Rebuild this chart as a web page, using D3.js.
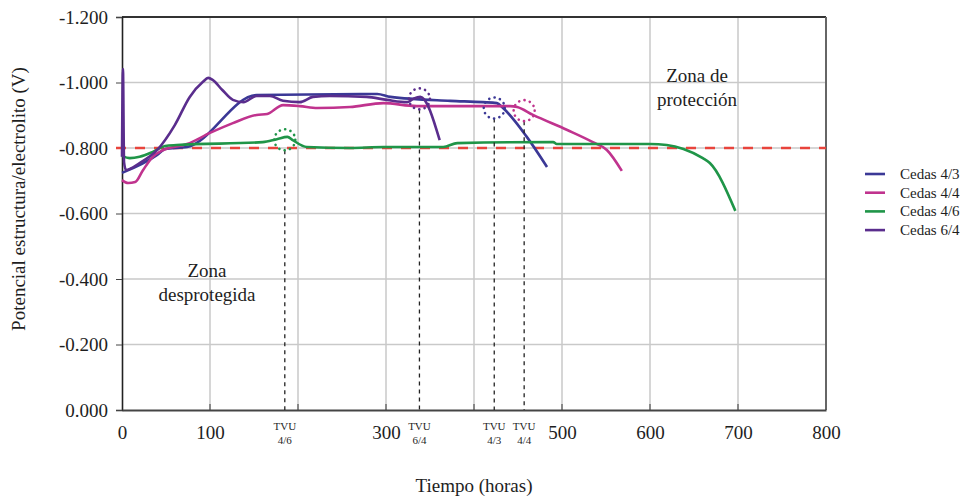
<!DOCTYPE html>
<html>
<head>
<meta charset="utf-8">
<script src="https://cdn.jsdelivr.net/npm/d3@7"></script>
<style>
  body { margin: 0; background: #fff; }
</style>
</head>
<body>
<div id="chart"></div>
<script>
var width = 965;
var height = 498;
var serif = '"Liberation Serif", "Times New Roman", serif';

// data: [hours, potential V]
var cedas43 = [[0,-0.724],[40,-0.779],[49,-0.797],[74,-0.803],[153,-0.962],[290,-0.965],[305,-0.956],
  [373,-0.944],[410,-0.940],[426,-0.937],[433,-0.922],[460,-0.834],[483,-0.742]];
var cedas44 = [[0,-0.702],[7,-0.693],[15,-0.696],[24,-0.733],[35,-0.773],[47,-0.794],[74,-0.812],
  [100,-0.846],[126,-0.876],[153,-0.901],[165,-0.904],[183,-0.931],[202,-0.928],[222,-0.922],
  [259,-0.925],[297,-0.937],[335,-0.928],[441,-0.928],[449,-0.925],[467,-0.901],[506,-0.855],
  [535,-0.818],[551,-0.794],[568,-0.730]];
var cedas46 = [[0,-0.776],[9,-0.769],[20,-0.773],[35,-0.788],[49,-0.806],[62,-0.809],[160,-0.818],
  [176,-0.827],[188,-0.834],[194,-0.824],[210,-0.803],[259,-0.800],[297,-0.803],[365,-0.803],
  [381,-0.815],[490,-0.818],[494,-0.812],[600,-0.812],[619,-0.809],[638,-0.797],[660,-0.769],
  [668,-0.754],[697,-0.608]];
var cedas64 = [[0,-0.773],[1.1,-1.041],[2.3,-0.757],[4.5,-0.733],[20,-0.754],[40,-0.794],[60,-0.870],
  [77,-0.956],[92,-1.002],[98,-1.014],[103,-1.008],[114,-0.977],[126,-0.947],[138,-0.940],
  [153,-0.959],[168,-0.959],[183,-0.944],[202,-0.940],[217,-0.956],[236,-0.959],[278,-0.956],
  [301,-0.947],[324,-0.940],[331,-0.950],[339,-0.956],[361,-0.824]];

var seriesNames = ['Cedas 4/3', 'Cedas 4/4', 'Cedas 4/6', 'Cedas 6/4'];
var seriesData = [cedas43, cedas44, cedas46, cedas64];
var seriesColors = ['#3b3896', '#c0338e', '#1f9548', '#5a2d8d'];

// TVU markers: label, hours, potential, colour
var tvuNames = ['4/6', '6/4', '4/3', '4/4'];
var tvuHours = [185, 338, 423, 457];
var tvuValues = [-0.825, -0.950, -0.922, -0.914];
var tvuColors = ['#1f9548', '#5a2d8d', '#3b3896', '#c0338e'];

var xTicks = [0, 100, 300, 500, 600, 700, 800];
var xGrid = [100, 200, 300, 400, 500, 600, 700];
var yTicks = [0, -0.2, -0.4, -0.6, -0.8, -1.0, -1.2];
var protection = -0.8;

var svg = d3.select('#chart').append('svg').attr('width', width).attr('height', height)
  .style('font-family', serif);

var x = d3.scaleLinear().domain([0, 800]).range([122, 826]);
var y = d3.scaleLinear().domain([0, -1.2]).range([410, 17]);

var fmt = function(d){
  var s = Math.abs(d).toFixed(3);
  return d < 0 ? '-' + s : s;
};

// grid
var grid = svg.append('g').attr('class', 'grid');
grid.selectAll('.vgrid').data(xGrid).enter().append('line')
  .attr('x1', function(d){ return x(d); }).attr('x2', function(d){ return x(d); })
  .attr('y1', y(-1.2)).attr('y2', y(0))
  .attr('stroke', '#c9c9c9').attr('stroke-width', 1.5);
grid.selectAll('.hgrid').data(yTicks.slice(1, -1)).enter().append('line')
  .attr('x1', x(0)).attr('x2', x(800))
  .attr('y1', function(d){ return y(d); }).attr('y2', function(d){ return y(d); })
  .attr('stroke', '#c9c9c9').attr('stroke-width', 1.5);

// bottom inner tick marks
grid.selectAll('.btick').data(xGrid).enter().append('line')
  .attr('x1', function(d){ return x(d); }).attr('x2', function(d){ return x(d); })
  .attr('y1', y(0) - 6).attr('y2', y(0))
  .attr('stroke', '#555').attr('stroke-width', 1.2);

// frame
svg.append('line').attr('x1', x(0)).attr('x2', x(800)).attr('y1', y(-1.2)).attr('y2', y(-1.2))
  .attr('stroke', '#333').attr('stroke-width', 1.8);
svg.append('line').attr('x1', x(800)).attr('x2', x(800)).attr('y1', y(-1.2)).attr('y2', y(0))
  .attr('stroke', '#666').attr('stroke-width', 2);

// y axis
var yAxis = svg.append('g').attr('transform', 'translate(' + x(0) + ',0)')
  .call(d3.axisLeft(y).tickValues(yTicks).tickFormat(fmt).tickSize(6).tickPadding(8));
yAxis.attr('font-family', null);
yAxis.select('.domain').attr('stroke', '#222').attr('stroke-width', 1.6);
yAxis.selectAll('.tick line').attr('stroke', '#444');
yAxis.selectAll('text').style('font-size', '19px').attr('fill', '#1e1e1e')
  .style('font-family', serif);

// x axis
var xAxis = svg.append('g').attr('transform', 'translate(0,' + y(0) + ')')
  .call(d3.axisBottom(x).tickValues(xTicks).tickFormat(d3.format('d')).tickSize(0).tickPadding(16));
xAxis.attr('font-family', null);
xAxis.select('.domain').attr('stroke', '#444').attr('stroke-width', 1.8);
xAxis.selectAll('text').style('font-size', '19px').attr('fill', '#1e1e1e')
  .style('font-family', serif);

// protection threshold
svg.append('line').attr('x1', x(0) - 6).attr('x2', x(800))
  .attr('y1', y(protection)).attr('y2', y(protection))
  .attr('stroke', '#e8443c').attr('stroke-width', 2.5).attr('stroke-dasharray', '10,9');

// series
var line = d3.line()
  .x(function(d){ return x(d[0]); })
  .y(function(d){ return y(d[1]); })
  .curve(d3.curveMonotoneX);

var lines = svg.append('g').attr('class', 'lines');
lines.selectAll('path').data(seriesData).enter().append('path')
  .attr('d', line)
  .attr('fill', 'none')
  .attr('stroke', function(d, i){ return seriesColors[i]; })
  .attr('stroke-width', 2.6)
  .attr('stroke-linejoin', 'round');

// TVU markers
var tvu = svg.append('g').attr('class', 'tvu');
var r = 10.5;
tvuNames.forEach(function(n, i){
  var cx = x(tvuHours[i]);
  var cy = y(tvuValues[i]);
  tvu.append('line').attr('x1', cx).attr('x2', cx).attr('y1', cy + r).attr('y2', y(0))
    .attr('stroke', '#222').attr('stroke-width', 1.3).attr('stroke-dasharray', '4,4');
  tvu.append('circle').attr('cx', cx).attr('cy', cy).attr('r', r)
    .attr('fill', 'none').attr('stroke', tvuColors[i]).attr('stroke-width', 2.6)
    .attr('stroke-linecap', 'round').attr('stroke-dasharray', '0.1,5.4');
  tvu.append('text').attr('x', cx).attr('y', 430).attr('text-anchor', 'middle')
    .style('font-size', '11px').attr('fill', '#1e1e1e').text('TVU');
  tvu.append('text').attr('x', cx).attr('y', 444).attr('text-anchor', 'middle')
    .style('font-size', '11px').attr('fill', '#1e1e1e').text(n);
});

// zone labels
var zones = [
  {lines: ['Zona de', 'protección'], x: 697, y: 82},
  {lines: ['Zona', 'desprotegida'], x: 207, y: 277}
];
zones.forEach(function(z){
  z.lines.forEach(function(t, j){
    svg.append('text').attr('x', z.x).attr('y', z.y + j * 24).attr('text-anchor', 'middle')
      .style('font-size', '19px').attr('fill', '#1e1e1e').text(t);
  });
});

// axis titles
svg.append('text').attr('x', 474).attr('y', 492).attr('text-anchor', 'middle')
  .style('font-size', '19px').attr('fill', '#1e1e1e').text('Tiempo (horas)');
svg.append('text').attr('transform', 'translate(25,199) rotate(-90)').attr('text-anchor', 'middle')
  .style('font-size', '19px').attr('fill', '#1e1e1e').text('Potencial estructura/electrolito (V)');

// legend
var legend = svg.append('g').attr('transform', 'translate(865,174)');
seriesNames.forEach(function(n, i){
  var g = legend.append('g').attr('transform', 'translate(0,' + (i * 18.7) + ')');
  g.append('line').attr('x1', 0).attr('x2', 20).attr('y1', 0).attr('y2', 0)
    .attr('stroke', seriesColors[i]).attr('stroke-width', 2.6);
  g.append('text').attr('x', 35).attr('y', 5).style('font-size', '15px')
    .attr('fill', '#1e1e1e').text(n);
});
</script>
</body>
</html>
